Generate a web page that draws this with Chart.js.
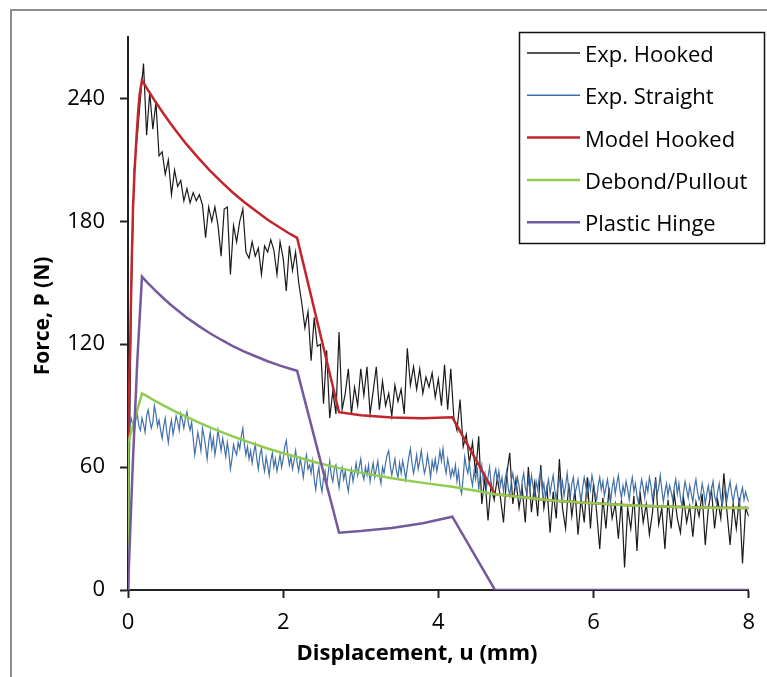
<!DOCTYPE html>
<html>
<head>
<meta charset="utf-8">
<script src="https://cdn.jsdelivr.net/npm/chart.js@4.4.1/dist/chart.umd.min.js"></script>
<style>
  html, body { margin: 0; padding: 0; background: #fff; overflow: hidden; }
  #frame { position: absolute; left: 10px; top: 9px; width: 800px; height: 700px;
           border-left: 2px solid #8e8e8e; border-top: 2px solid #8e8e8e; }
  #chart { position: absolute; left: 0; top: 0; }
</style>
</head>
<body>
<div id="frame"></div>
<canvas id="chart" width="767" height="677"></canvas>
<script>
// measured samples: hooked every 0.04 mm, straight every 0.02 mm
const hookedStep = 0.04;
const expHooked = [
  0, 140, 205, 222, 240, 257, 222, 243, 225, 238,
  212, 214, 203, 210, 193, 205, 197, 200, 190, 196,
  189, 194, 190, 193, 188, 172, 187, 180, 187, 178,
  163, 186, 187, 154, 178, 170, 180, 186, 165, 162,
  170, 163, 167, 154, 168, 165, 171, 166, 154, 170,
  162, 146, 168, 156, 165, 150, 140, 128, 136, 112,
  133, 119, 120, 91, 117, 84, 97, 86, 126, 88,
  96, 108, 86, 99, 90, 108, 95, 109, 86, 97,
  109, 88, 102, 90, 96, 85, 100, 92, 98, 86,
  118, 100, 109, 98, 108, 96, 104, 99, 106, 94,
  103, 90, 110, 88, 108, 84, 78, 93, 70, 76,
  62, 72, 57, 75, 42, 55, 34, 52, 44, 55,
  45, 33, 56, 67, 42, 54, 40, 50, 33, 60,
  38, 52, 36, 61, 40, 50, 28, 48, 35, 64,
  40, 30, 52, 36, 49, 27, 45, 33, 55, 30,
  52, 38, 20, 45, 30, 50, 35, 42, 25, 44,
  11, 40, 30, 46, 19, 48, 33, 42, 27, 38,
  55, 32, 40, 20, 44, 30, 47, 35, 28, 45,
  33, 41, 26, 43, 36, 47, 22, 40, 49, 30,
  44, 35, 57, 38, 22, 42, 30, 45, 13, 40,
  36
];
const straightStep = 0.02;
const expStraight = [
  0, 79, 84, 81, 77, 83, 86, 80, 78, 84,
  81, 77, 85, 88, 83, 79, 82, 90, 86, 80,
  83, 78, 74, 80, 84, 77, 72, 79, 83, 76,
  80, 85, 82, 78, 86, 83, 79, 84, 87, 81,
  78, 82, 74, 66, 71, 77, 73, 68, 79, 75,
  70, 64, 72, 77, 69, 74, 66, 71, 78, 73,
  68, 74, 70, 65, 72, 67, 59, 64, 71, 68,
  66, 72, 69, 75, 79, 71, 66, 70, 64, 68,
  62, 67, 71, 64, 59, 66, 69, 62, 58, 65,
  61, 56, 63, 67, 60, 64, 58, 62, 66, 60,
  64, 70, 73, 66, 61, 65, 59, 63, 68, 62,
  58, 64, 60, 55, 62, 66, 59, 61, 57, 63,
  54, 49, 56, 60, 52, 48, 55, 58, 51, 57,
  63, 56, 53, 59, 61, 55, 50, 57, 60, 54,
  58, 52, 48, 55, 59, 53, 57, 62, 56, 60,
  64, 57, 54, 60, 56, 61, 53, 58, 62, 55,
  59, 63, 56, 52, 60, 57, 62, 66, 68, 61,
  56, 60, 64, 58, 55, 62, 57, 63, 59, 54,
  60, 65, 69, 62, 57, 61, 66, 59, 63, 68,
  62, 57, 60, 66, 61, 55, 63, 59, 64, 58,
  62, 68, 63, 69, 61, 57, 64, 60, 55, 59,
  56, 61, 53, 58, 50, 47, 55, 65, 60, 57,
  62, 55, 51, 58, 54, 60, 49, 56, 61, 53,
  57, 50, 55, 60, 52, 47, 56, 59, 53, 58,
  51, 55, 48, 54, 58, 50, 46, 53, 57, 52,
  49, 55, 51, 45, 53, 57, 50, 47, 54, 49,
  56, 51, 46, 53, 49, 55, 58, 48, 52, 45,
  50, 54, 47, 52, 56, 49, 44, 51, 55, 48,
  53, 46, 51, 57, 49, 45, 52, 55, 47, 50,
  54, 48, 43, 50, 55, 51, 46, 53, 49, 56,
  52, 47, 44, 51, 55, 49, 53, 46, 50, 54,
  48, 43, 50, 54, 47, 52, 56, 49, 45, 51,
  47, 53, 49, 44, 51, 55, 48, 52, 46, 42,
  49, 54, 50, 45, 52, 48, 55, 51, 44, 49,
  53, 47, 50, 56, 49, 43, 48, 52, 46, 51,
  48, 44, 50, 54, 47, 52, 45, 41, 48, 53,
  49, 45, 51, 47, 43, 50, 54, 48, 44, 46,
  52, 48, 42, 47, 51, 45, 49, 53, 46, 43,
  48, 52, 45, 41, 47, 50, 44, 49, 53, 47,
  43, 48, 51, 46, 42, 47, 50, 44, 48, 45,
  43
];

// model curves
const modelHookedX = [0, 0.003, 0.015, 0.03, 0.045, 0.065, 0.085, 0.108, 0.13, 0.15, 0.18,
  0.25, 0.35, 0.45, 0.55, 0.65, 0.75, 0.9, 1.05, 1.2, 1.35, 1.5, 1.65, 1.8, 1.95, 2.1, 2.18,
  2.72, 3.0, 3.4, 3.8, 4.18, 4.73, 5.0, 5.5, 6.0, 6.5, 7.0, 7.5, 8.0];
const modelHookedY = [0, 72, 100, 122, 155, 187, 205, 220, 233, 242, 249,
  244.6, 238.6, 233.0, 227.6, 222.6, 217.8, 211.2, 205.0, 199.4, 194.1, 189.3, 185.0, 180.8, 177.1, 173.6, 171.9,
  86.8, 85.3, 84.2, 83.8, 84.3, 46.8, 45.6, 43.6, 42.3, 41.3, 40.6, 40.2, 40.0];

const debondX = [0, 0.003, 0.18, 0.25, 0.35, 0.45, 0.55, 0.65, 0.75, 0.9, 1.05, 1.2, 1.35, 1.5, 1.65, 1.8, 1.95, 2.1, 2.18,
  2.4, 2.72, 3.0, 3.4, 3.8, 4.18, 4.5, 4.73, 5.0, 5.5, 6.0, 6.5, 7.0, 7.5, 8.0];
const debondY = [0, 72, 96, 94.5, 92.3, 90.3, 88.3, 86.4, 84.6, 82.0, 79.5, 77.2, 75.0, 72.9, 71.0, 69.1, 67.4, 65.7, 64.9,
  62.5, 59.5, 57.3, 54.6, 52.3, 50.4, 48.3, 46.8, 45.6, 43.6, 42.3, 41.3, 40.6, 40.2, 40.0];

const hingeX = [0, 0.06, 0.12, 0.18, 0.25, 0.35, 0.45, 0.55, 0.65, 0.75, 0.9, 1.05, 1.2, 1.35, 1.5, 1.65, 1.8, 1.95, 2.1, 2.18,
  2.72, 3.0, 3.4, 3.8, 4.18, 4.73, 8.0];
const hingeY = [0, 60, 112, 153, 150.1, 146.3, 142.7, 139.3, 136.2, 133.2, 129.2, 125.5, 122.2, 119.1, 116.4, 114.0, 111.7, 109.7, 107.9, 107.0,
  28.0, 28.8, 30.3, 32.6, 35.8, 0, 0];

const seriesNames = ['Exp. Hooked', 'Exp. Straight', 'Model Hooked', 'Debond/Pullout', 'Plastic Hinge'];
const seriesColors = ['#1a1a1a', '#4170a8', '#c0262c', '#8fcc4f', '#75599e'];
const xTicks = [0, 2, 4, 6, 8];
const yTicks = [0, 60, 120, 180, 240];

const sampled = (vals, step) => vals.map((y, i) => ({ x: +(i * step).toFixed(2), y }));
const paired = (xs, ys) => xs.map((x, i) => ({ x, y: ys[i] }));

const overlay = {
    id: 'overlay',
    afterDraw(chart) {
        const ctx = chart.ctx;
        ctx.save();
        // legend box
        ctx.fillStyle = '#fff';
        ctx.fillRect(519, 32, 246, 212);
        ctx.strokeStyle = '#111';
        ctx.lineWidth = 1.5;
        ctx.strokeRect(519.5, 32.5, 245, 211);
        ctx.font = '22px "Open Sans"';
        ctx.textAlign = 'left';
        ctx.textBaseline = 'alphabetic';
        chart.data.datasets.forEach((ds, i) => {
            const y = 53 + i * 42.3;
            ctx.strokeStyle = ds.borderColor;
            ctx.lineWidth = Math.max(ds.borderWidth, 1.5);
            ctx.beginPath();
            ctx.moveTo(527, y);
            ctx.lineTo(580, y);
            ctx.stroke();
            ctx.fillStyle = '#000';
            ctx.fillText(ds.label, 585, y + 9);
        });
        // axis titles
        ctx.textAlign = 'center';
        ctx.font = 'bold 22px "Open Sans"';
        ctx.fillText('Displacement, u (mm)', 417, 660);
        ctx.font = 'bold 21px "Open Sans"';
        ctx.translate(49, 316);
        ctx.rotate(-Math.PI / 2);
        ctx.fillText('Force, P (N)', 0, 0);
        ctx.restore();
    }
};

const lineSet = (i, data, width, order) => ({
    label: seriesNames[i],
    data: data,
    borderColor: seriesColors[i],
    backgroundColor: seriesColors[i],
    borderWidth: width,
    pointRadius: 0,
    tension: 0,
    fill: false,
    order: order
});

const axisGrid = {
    display: true,
    drawOnChartArea: false,
    drawTicks: true,
    tickLength: 8,
    tickWidth: 2,
    tickColor: '#222',
    color: '#222'
};

new Chart(document.getElementById('chart').getContext('2d'), {
    type: 'line',
    data: {
        datasets: [
            lineSet(0, sampled(expHooked, hookedStep), 1.2, 5),
            lineSet(1, sampled(expStraight, straightStep), 1.2, 4),
            lineSet(2, paired(modelHookedX, modelHookedY), 2.5, 3),
            lineSet(3, paired(debondX, debondY), 2.5, 2),
            lineSet(4, paired(hingeX, hingeY), 2.5, 1)
        ]
    },
    options: {
        responsive: false,
        animation: false,
        layout: { padding: { left: 0, top: 37, right: 18, bottom: 0 } },
        plugins: {
            legend: { display: false },
            tooltip: { enabled: false }
        },
        scales: {
            x: {
                type: 'linear',
                min: 0,
                max: 8,
                afterFit: (scale) => { scale.height = 87; },
                afterBuildTicks: (scale) => { scale.ticks = xTicks.map(v => ({ value: v })); },
                ticks: { padding: 12, color: '#000', font: { family: 'Open Sans', size: 22 } },
                grid: axisGrid,
                border: { display: true, color: '#222', width: 2 },
                title: { display: false }
            },
            y: {
                min: 0,
                max: 270,
                afterFit: (scale) => { scale.width = 128; },
                afterBuildTicks: (scale) => { scale.ticks = yTicks.map(v => ({ value: v })); },
                ticks: { padding: 15, color: '#000', font: { family: 'Open Sans', size: 22 } },
                grid: axisGrid,
                border: { display: true, color: '#222', width: 2 },
                title: { display: false }
            }
        }
    },
    plugins: [overlay]
});
</script>
</body>
</html>
